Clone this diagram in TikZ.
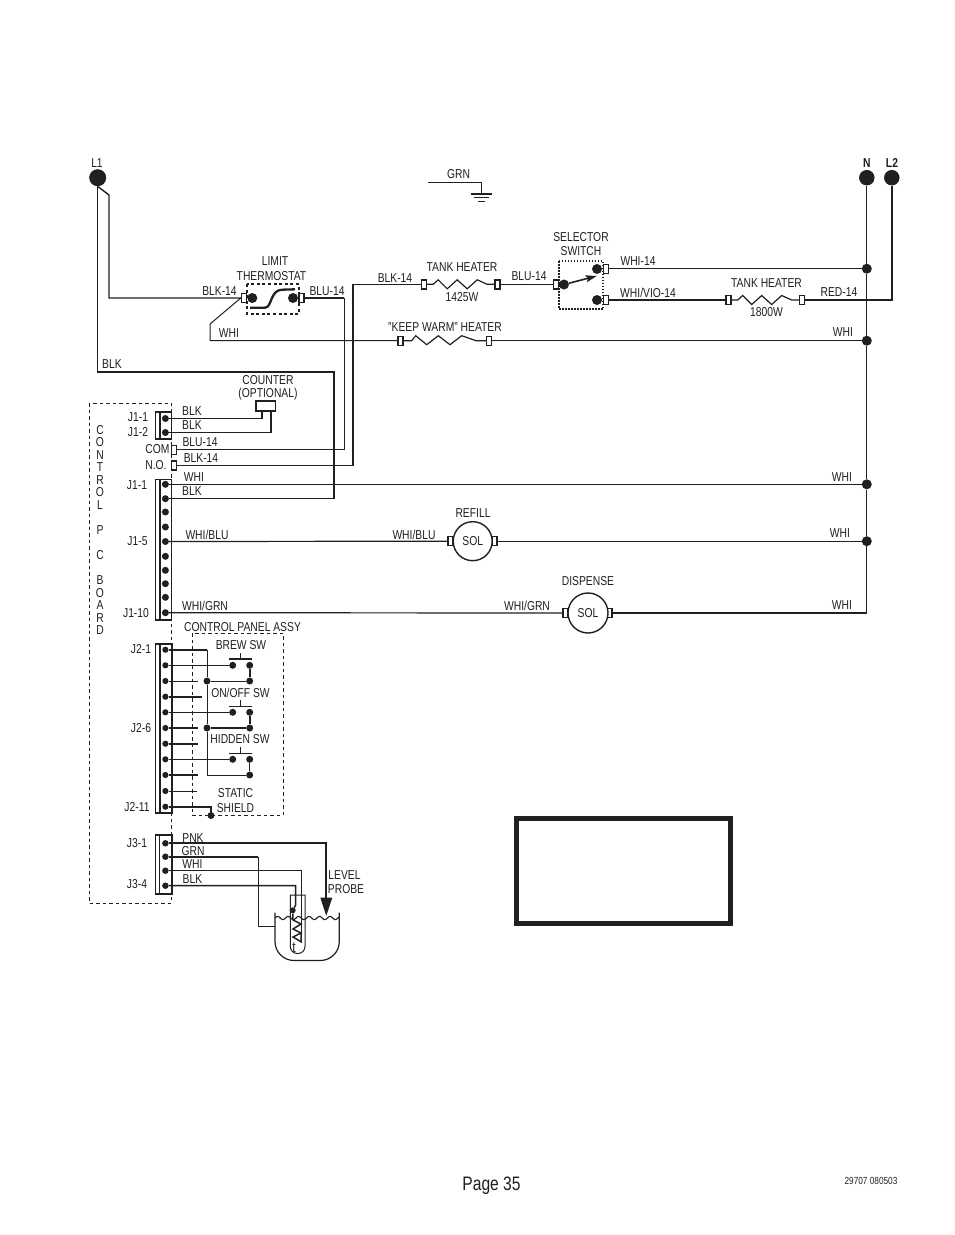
\documentclass[tikz,border=0pt]{standalone}
\usepackage{fontspec}
\setmainfont[FakeStretch=0.8]{Liberation Sans}
\usetikzlibrary{arrows.meta}
\definecolor{ink}{HTML}{231F20}
\tikzset{
  wire/.style={draw=ink,line width=1.2pt,line join=miter},
  thickwire/.style={draw=ink,line width=1.6pt,line join=miter},
  thinwire/.style={draw=ink,line width=0.9pt},
  lab/.style={text=ink,inner sep=0pt,font=\fontsize{12.9}{14.5}\selectfont},
  term/.style={draw=ink,fill=white,line width=1.4pt,minimum width=5pt,minimum height=9pt,inner sep=0pt},
  dot/.style={circle,fill=ink,minimum size=7pt,inner sep=0pt},
  bigdot/.style={circle,fill=ink,minimum size=10pt,inner sep=0pt},
  mains/.style={circle,fill=ink,minimum size=15.5pt,inner sep=0pt},
  sol/.style={circle,draw=ink,line width=1.4pt,fill=white,minimum size=39pt,inner sep=0pt,text=ink,font=\fontsize{12.9}{14.5}\selectfont},
  bus/.style={draw=ink,line width=1.1pt},
  busbar/.style={draw=ink,line width=1.5pt,fill=white},
  boxdash/.style={draw=ink,line width=1pt,dash pattern=on 3.5pt off 3pt},
}
\begin{document}
\begin{tikzpicture}[x=1pt,y=-1pt]
\useasboundingbox (0,0) rectangle (954,1235);
\fill[white] (0,0) rectangle (954,1235);

% ---- boxes
\draw[boxdash] (89,403) rectangle (171.3,903);
\draw[boxdash] (192.3,633) rectangle (283.3,815);
\draw[draw=ink,line width=1.6pt,dash pattern=on 3pt off 2.6pt] (247,284) rectangle (299,314);
\draw[draw=ink,line width=1.4pt,dash pattern=on 1.5pt off 1.5pt] (559,261) rectangle (603,309);
\draw[draw=ink,line width=4.7pt] (516.3,818.3) rectangle (730.4,923.4);

% ---- mains
\node[mains,minimum size=17pt] (L1) at (97.7,177.7) {};
\node[mains] (N) at (866.8,177.7) {};
\node[mains] (L2) at (891.8,177.7) {};

% ---- bus dots on N
\node[bigdot] (n1) at (866.8,268.7) {};
\node[bigdot] (n2) at (866.8,340.7) {};
\node[bigdot] (n3) at (866.8,484.3) {};
\node[bigdot] (n4) at (866.8,541.2) {};
\coordinate (n5) at (866.8,613);

% ---- terminals
\node[term] (th1) at (244,298) {};
\node[term] (th2) at (301.5,298) {};
\node[bigdot] (thc1) at (252.3,298) {};
\node[bigdot] (thc2) at (293,298) {};
\node[term] (h1a) at (424,284.3) {};
\node[term] (h1b) at (497.5,284.3) {};
\node[term] (kw1) at (400.5,340.7) {};
\node[term] (kw2) at (489.2,340.7) {};
\node[term] (s0) at (555.8,284.3) {};
\node[term] (s1) at (606,268.7) {};
\node[term] (s2) at (606,300) {};
\node[bigdot] (sc0) at (564,284.5) {};
\node[bigdot] (sc1) at (597,269) {};
\node[bigdot] (sc2) at (597,300) {};
\node[term] (h2a) at (728.5,300) {};
\node[term] (h2b) at (802,300) {};
\node[term] (com) at (174,449.7) {};
\node[term] (no) at (174,465.3) {};
\node[term] (r1) at (450.5,541.2) {};
\node[term] (r2) at (494.5,541.2) {};
\node[term] (d1) at (565.5,613) {};
\node[term] (d2) at (609.5,613) {};
\node[sol] (refill) at (472.7,541.2) {SOL};
\node[sol,minimum size=40pt] (disp) at (588,613) {SOL};
\node[draw=ink,line width=1.6pt,fill=white,minimum width=19.5pt,minimum height=9.5pt,inner sep=0pt] (counter) at (265.8,406) {};

% ---- connector blocks
\draw[bus] (155.5,412) rectangle (171.5,439);
\draw[busbar] (155.5,412) rectangle (160,439);
\draw[bus] (155.5,479.5) rectangle (171.5,620);
\draw[busbar] (155.5,479.5) rectangle (160,620);
\draw[bus] (155.5,644) rectangle (172,813);
\draw[busbar] (155.5,644) rectangle (160,813);
\draw[bus] (155.5,835) rectangle (172,894);
\draw[busbar,line width=1.8pt] (155.5,835) rectangle (159.5,894);

\node[dot] (t1) at (165.4,418.5) {};
\node[dot] (t2) at (165.4,432.5) {};
\foreach \i/\y in {1/484.3,2/498.7,3/512,4/527,5/541.5,6/556.3,7/570.3,8/583.7,9/597.3,10/612.7}
  \node[dot] (ja\i) at (165.4,\y) {};
\foreach \i/\y in {1/649.7,2/665.3,3/681,4/696.7,5/712.3,6/728,7/743.7,8/759.3,9/775,10/791,11/806.7}
  \node[dot,minimum size=6.2pt] (jb\i) at (165.4,\y) {};
\foreach \i/\y in {1/843.3,2/856.7,3/870.7,4/885.7}
  \node[dot,minimum size=6.5pt] (jc\i) at (165.4,\y) {};

% ---- L1 feeds
\coordinate (L1a) at (109,195);
\coordinate (blkturn) at (334,372);
\draw[wire,line width=1.4pt] (L1.south) -- (L1a) |- (th1.west);
\draw[wire] (L1.south) |- (blkturn) |- (ja2);

% ---- limit thermostat
\coordinate (whib) at (210,324);
\coordinate (bluturn) at (344,449.7);
\coordinate (blkturn2) at (353,300);
\coordinate (blustub) at (344,298);
\draw[wire,line width=1pt] (th1.west) -- (whib) |- (kw1.west);
\draw[thickwire] (th2.east) -- (blustub);
\draw[wire,line width=1pt] (blustub) -- (bluturn) -- (com.east);
\draw[wire] (no.east) -| (blkturn2) |- (h1a.west);
\draw[draw=ink,line width=2.3pt] (250,307.7) -- (265,307.7) .. controls (272,307.7) and (270,290) .. (282,289.7) -- (295,289.3);

% ---- heaters
\draw[wire] (h1a.east) -- ++(6,0) -- ++(5,-4.5) -- ++(9,9) -- ++(10,-9) -- ++(10,9) -- ++(10,-9) -- ++(10,4.5) -- (h1b.west);
\draw[wire] (h2a.east) -- ++(6,0) -- ++(5,-4.5) -- ++(9,9) -- ++(10,-9) -- ++(10,9) -- ++(10,-9) -- ++(10,4.5) -- (h2b.west);
\draw[wire] (kw1.east) -- ++(8,0) -- ++(4,-5) -- ++(11,9) -- ++(11.6,-9) -- ++(11.7,9) -- ++(11.7,-9) -- ++(14.3,5) -- (kw2.west);
\draw[wire] (kw2.east) -- (n2);
\draw[wire] (h1b.east) -- (s0.west);

% ---- selector
\coordinate (stip) at (596.7,276);
\draw[draw=ink,line width=1.6pt,-{Stealth[length=11pt,width=7pt,inset=2pt]}] (sc0) -- (stip);
\draw[wire] (s1.east) -- (n1);
\draw[wire] (s2.east) -- (h2a.west);
\coordinate (l2turn) at (891.8,300);
\draw[wire,line width=1.6pt] (h2b.east) -- (l2turn) -- (L2);
\draw[wire] (N) -- (n1) -- (n2) -- (n3) -- (n4) -- (n5);

% ---- J1 wires
\coordinate (cnt1) at (262,411);
\coordinate (cnt2) at (271,411);
\draw[thickwire] (t1) -| (cnt1);
\draw[thickwire] (t2) -| (cnt2);
\draw[wire] (ja1) -- (n3);
\draw[wire] (ja5) -- (r1.west);
\draw[thickwire] (ja5) -- (236,541.5);
\draw[wire] (r2.east) -- (n4);
\draw[wire] (ja10) -- (d1.west);
\draw[wire] (d2.east) -- (n5);

% ---- control panel
\foreach \n/\x/\y in {b1/232.7/665.3,b2/249.7/665.3,b3/207/681,b4/249.7/681,b5/232.7/712.3,b6/249.7/712.3,b7/207/728,b8/249.7/728,b9/232.7/759.3,b10/249.7/759.3,b11/249.7/775}
  \node[dot] (\n) at (\x,\y) {};
\node[dot] (shield) at (211,815.5) {};
\coordinate (j2a) at (207,649.7);
\draw[wire,line width=1pt] (207,649.7) -- (b3) -- (b7) -- (207,775) -- (b11);
\draw[thickwire] (jb1) -- (j2a);
\draw[thinwire] (jb2) -- (b1);
\draw[thickwire] (b2) -- (b4);
\draw[thinwire] (jb3) -- (197.7,681);
\draw[wire,line width=1pt] (b3) -- (b4);
\draw[thickwire] (jb4) -- (201.7,696.7);
\draw[thickwire] (jb5) -- (b5);
\draw[thickwire] (b6) -- (b8);
\draw[thickwire] (jb6) -- (197.7,728);
\draw[thickwire] (b7) -- (b8);
\draw[thickwire] (jb7) -- (197.7,743.7);
\draw[thickwire] (jb8) -- (b9);
\draw[wire] (b10) -- (b11);
\draw[thickwire] (jb9) -- (197.7,775);
\draw[thinwire] (jb10) -- (196.7,791);
\draw[thickwire] (jb11) -| (shield);
\draw[thickwire,line width=1.9pt] (229,659) -- (251.7,659);
\draw[thinwire] (240.7,653) -- (240.7,659);
\draw[thinwire] (229,706.7) -- (251.7,706.7);
\draw[thinwire] (240.7,700) -- (240.7,706.7);
\draw[thinwire] (229,753.3) -- (251.7,753.3);
\draw[thinwire] (240.7,747) -- (240.7,753.3);

% ---- level probe
\coordinate (tip) at (326.3,916);
\coordinate (bathin) at (275,926.7);
\coordinate (grnturn) at (258.3,926.7);
\coordinate (grnstub) at (258.3,856.7);
\coordinate (whitrn) at (301,932);
\coordinate (blktrn) at (295.7,905);
\node[dot,minimum size=6pt] (pd) at (292.7,910.3) {};
\draw[draw=ink,line width=2pt,-{Stealth[length=18.5pt,width=11.5pt,inset=0pt]}] (jc1) -| (tip);
\draw[thickwire] (jc2) -- (grnstub);
\draw[thinwire] (grnstub) -- (grnturn) -- (bathin);
\draw[thinwire] (jc3) -| (whitrn);
\draw[wire,line width=1.5pt] (jc4) -| (blktrn) -- (pd);
\draw[draw=ink,line width=1.2pt,rounded corners=19pt] (275,912.7) -- (275,960.5) -- (339.3,960.5) -- (339.3,912.7);
\draw[draw=ink,line width=1.1pt] plot[domain=275:339,samples=90,smooth] (\x,{918-1.6*sin(34.3*(\x-275))});
\draw[draw=ink,line width=1pt] (290.3,895) -- (305,895) [rounded corners=7pt] -- (305,953.5) -- (290.3,953.5) [sharp corners] -- cycle;
\draw[draw=ink,line width=1.5pt] (pd) -- (293,920) -- (301,924) -- (293,929) -- (301,933) -- (293,937) -- (301,941.7) -- (whitrn);

% ---- ground
\coordinate (g0) at (428,182.3);
\coordinate (g1) at (481.7,193.7);
\draw[thinwire] (g0) -| (g1);
\draw[draw=ink,line width=1.7pt] (470.7,193.7) -- (492,193.7);
\draw[draw=ink,line width=1.2pt] (474,197.5) -- (488.5,197.5);
\draw[draw=ink,line width=1.5pt] (478,201.7) -- (484.5,201.7);

% ---- labels
\foreach \n/\x/\y/\t in {
 a1/97/163/L1, a4/458.5/174.5/GRN,
 a5/275/261/LIMIT, a6/271.5/276/THERMOSTAT, a7/219.5/291/BLK-14, a8/327/291/BLU-14,
 a9/229/333.5/WHI, a10/112/364/BLK, a11/268/380/COUNTER, a12/268/394.5/(OPTIONAL),
 a13/395/278/BLK-14, a14/462/267.5/TANK HEATER, a15/462/297/1425W, a16/529/276.5/BLU-14,
 a17/581/237/SELECTOR, a18/581/251/SWITCH, a19/638/261.5/WHI-14, a20/648/292.5/WHI\slash VIO-14,
 a21/766.5/283.5/TANK HEATER, a22/766.5/312.5/1800W, a23/839/292.5/RED-14,
 a24/445/327.5/"KEEP WARM" HEATER, a25/843/332.5/WHI,
 a26/138/417/J1-1, a27/138/432.5/J1-2, a28/192/411/BLK, a29/192/425.5/BLK,
 a30/157.5/449/COM, a31/200/442.5/BLU-14, a32/156/465/N.O., a33/201/458.5/BLK-14,
 a34/137/485.5/J1-1, a35/194/477/WHI, a36/192/491.5/BLK,
 a37/137.5/541.5/J1-5, a38/207/534.5/WHI\slash BLU, a39/414/534.5/WHI\slash BLU,
 a40/136/613/J1-10, a41/205/605.5/WHI\slash GRN, a42/527/605.5/WHI\slash GRN,
 a43/842/477/WHI, a44/840/533/WHI, a45/842/605/WHI, a46/473/513.5/REFILL, a47/588/581.5/DISPENSE,
 a48/242.5/627/CONTROL PANEL ASSY, a49/141/649/J2-1, a50/141/728/J2-6, a51/137/807/J2-11,
 a52/241/645/BREW SW, a53/240.5/692.5/ON\slash OFF SW, a54/240/739.5/HIDDEN SW,
 a55/235.5/793.5/STATIC, a56/235.5/808.5/SHIELD,
 a57/137/843.5/J3-1, a58/137/884.5/J3-4, a59/193/838/PNK, a60/193/851.5/GRN, a61/192.5/864.5/WHI, a62/192.5/879/BLK,
 a63/344.5/875/LEVEL, a64/346/889.5/PROBE}
  \node[lab] (\n) at (\x,\y) {\t};
\node[lab,font=\fontsize{12.9}{14.5}\selectfont\bfseries] (a2) at (866.8,163) {N};
\node[lab,font=\fontsize{12.9}{14.5}\selectfont\bfseries] (a3) at (892,163) {L2};
\node[lab,font=\fontsize{15}{15}\selectfont] (a65) at (294,948) {t};
\node[lab,align=center,font=\fontsize{12.9}{12.55}\selectfont] (vert) at (100,530) {C\\O\\N\\T\\R\\O\\L\\\mbox{}\\P\\\mbox{}\\C\\\mbox{}\\B\\O\\A\\R\\D};
\node[lab,font=\fontsize{19.5}{22}\selectfont] (page) at (491.5,1186) {Page 35};
\node[lab,font=\fontsize{10.3}{12}\selectfont] (code) at (871,1181) {29707 080503};
\end{tikzpicture}
\end{document}
